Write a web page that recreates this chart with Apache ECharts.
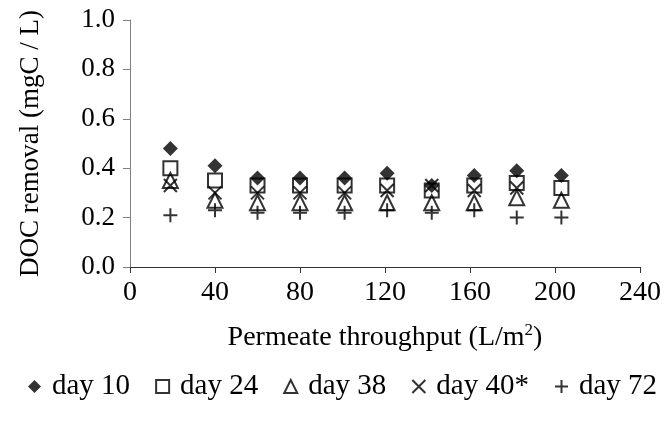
<!DOCTYPE html>
<html>
<head>
<meta charset="utf-8">
<script src="https://cdn.jsdelivr.net/npm/echarts@6/dist/echarts.min.js"></script>
<style>
  html, body { margin: 0; padding: 0; background: #fff; }
  #chart { width: 668px; height: 427px; }
</style>
</head>
<body>
<div id="chart"></div>
<script>
// Permeate throughput (L/m2) at each sampling point
const throughput = [19, 40, 60, 80, 101, 121, 142, 162, 182, 203];

// DOC removal (mgC / L) per run
const day10 = [0.48, 0.41, 0.36, 0.36, 0.36, 0.38, 0.33, 0.37, 0.39, 0.37];
const day24 = [0.40, 0.35, 0.33, 0.33, 0.33, 0.33, 0.31, 0.33, 0.34, 0.32];
const day38 = [0.35, 0.27, 0.26, 0.26, 0.26, 0.26, 0.26, 0.26, 0.28, 0.27];
const day40 = [0.33, 0.30, 0.30, 0.30, 0.30, 0.31, 0.33, 0.31, 0.32, null];
const day72 = [0.21, 0.23, 0.22, 0.22, 0.22, 0.23, 0.22, 0.23, 0.20, 0.20];

const seriesNames = ['day 10', 'day 24', 'day 38', 'day 40*', 'day 72'];

const FONT = '"Liberation Serif", "Times New Roman", serif';

function pairs(ys) {
  const out = [];
  ys.forEach((v, i) => { if (v !== null) out.push([throughput[i], v]); });
  return out;
}

const crossPath = 'path://M0,0 L10,10 M10,0 L0,10';
const plusPath = 'path://M5,0 L5,10 M0,5 L10,5';
const hollow = { color: 'rgba(0,0,0,0)', borderColor: '#000', borderWidth: 2 };

const chart = echarts.init(document.getElementById('chart'), null, { renderer: 'canvas' });

chart.setOption({
  animation: false,
  backgroundColor: '#fff',
  grid: { left: 130, right: 28, top: 20, bottom: 160 },
  legend: {
    bottom: 26,
    left: 28,
    width: 640,
    padding: 0,
    itemWidth: 13,
    itemHeight: 13,
    itemGap: 25,
    textStyle: { fontFamily: FONT, fontSize: 29, color: '#000', padding: [0, 0, 0, 6] },
    data: seriesNames
  },
  xAxis: {
    type: 'value',
    min: 0,
    max: 240,
    interval: 40,
    name: '{a|Permeate throughput (L/m}{s|2}{a|)}',
    nameLocation: 'middle',
    nameGap: 55,
    nameTextStyle: {
      rich: {
        a: { fontFamily: FONT, fontSize: 28, color: '#000' },
        s: { fontFamily: FONT, fontSize: 17, color: '#000', verticalAlign: 'top', padding: [0, 0, 14, 0] }
      }
    },
    axisLine: { lineStyle: { color: '#333', width: 1 } },
    axisTick: { inside: false, length: 6, lineStyle: { color: '#333' } },
    axisLabel: { fontFamily: FONT, fontSize: 28, color: '#000', margin: 12 },
    splitLine: { show: false }
  },
  yAxis: {
    type: 'value',
    min: 0,
    max: 1,
    interval: 0.2,
    name: 'DOC removal (mgC / L)',
    nameLocation: 'middle',
    nameGap: 86,
    nameTextStyle: { fontFamily: FONT, fontSize: 27, color: '#000' },
    axisLine: { show: true, lineStyle: { color: '#808080', width: 1 } },
    axisTick: { show: true, inside: false, length: 7, lineStyle: { color: '#808080' } },
    axisLabel: {
      fontFamily: FONT, fontSize: 27, color: '#000', margin: 15,
      formatter: v => v.toFixed(1)
    },
    splitLine: { show: false }
  },
  series: [
    {
      name: 'day 10', type: 'scatter', data: pairs(day10),
      symbol: 'diamond', symbolSize: 15,
      itemStyle: { color: '#000' }, z: 5
    },
    {
      name: 'day 24', type: 'scatter', data: pairs(day24),
      symbol: 'rect', symbolSize: 14, itemStyle: hollow
    },
    {
      name: 'day 38', type: 'scatter', data: pairs(day38),
      symbol: 'triangle', symbolSize: 15, itemStyle: hollow
    },
    {
      name: 'day 40*', type: 'scatter', data: pairs(day40),
      symbol: crossPath, symbolSize: 13, itemStyle: hollow
    },
    {
      name: 'day 72', type: 'scatter', data: pairs(day72),
      symbol: plusPath, symbolSize: 14, itemStyle: hollow
    }
  ]
});
</script>
</body>
</html>
